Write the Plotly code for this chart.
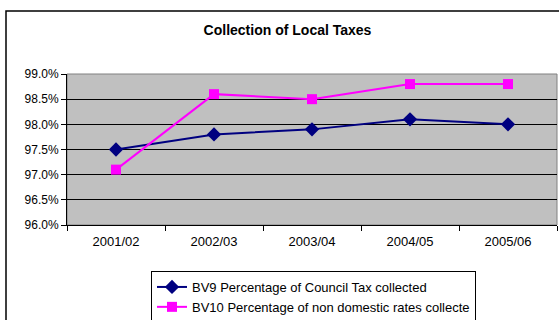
import plotly.graph_objects as go

categories = ["2001/02", "2002/03", "2003/04", "2004/05", "2005/06"]
bv9 = [97.5, 97.8, 97.9, 98.1, 98.0]
bv10 = [97.1, 98.6, 98.5, 98.8, 98.8]
name_bv9 = "BV9 Percentage of Council Tax collected"
name_bv10 = "BV10 Percentage of non domestic rates collecte"
title = "Collection of Local Taxes"

W, H = 559, 320
L, R, T, B = 67, 2, 74, 95
pw, ph = W - L - R, H - T - B

def px2x(p):
    return (p - L) / pw

def py2y(p):
    return (H - B - p) / ph

fig = go.Figure()
fig.add_trace(go.Scatter(x=categories, y=bv9, name=name_bv9, mode="lines+markers",
                         line=dict(color="#000080", width=2),
                         marker=dict(symbol="diamond", size=11, color="#000080")))
fig.add_trace(go.Scatter(x=categories, y=bv10, name=name_bv10, mode="lines+markers",
                         line=dict(color="#FF00FF", width=2),
                         marker=dict(symbol="square", size=10, color="#FF00FF")))

fig.update_layout(
    width=W, height=H,
    margin=dict(l=L, r=R, t=T, b=B, autoexpand=False),
    paper_bgcolor="white",
    plot_bgcolor="#C0C0C0",
    font=dict(family="Liberation Sans, Arial, sans-serif", size=13, color="black"),
    title=dict(text="<b>" + title + "</b>", x=287.5 / W, xanchor="center",
               y=1 - 30 / H, yanchor="middle", font=dict(size=14)),
    showlegend=True,
    legend=dict(x=px2x(151), xanchor="left", y=py2y(271), yanchor="top",
                bgcolor="white", bordercolor="black", borderwidth=1,
                font=dict(size=13), itemwidth=30),
    xaxis=dict(type="category", showgrid=False, ticks="outside", ticklen=5,
               tickcolor="black", tickson="boundaries", showline=True,
               linecolor="black", linewidth=1, range=[-0.5, 4.5],
               tickfont=dict(size=13), ticklabelstandoff=4),
    yaxis=dict(range=[96.0, 99.0], dtick=0.5, tickformat=".1f", ticksuffix="%",
               showgrid=True, gridcolor="black", gridwidth=1, ticks="outside",
               ticklen=5, tickcolor="black", showline=True, linecolor="black",
               linewidth=1, zeroline=False, tickfont=dict(size=12)),
    shapes=[
        dict(type="rect", xref="paper", yref="paper", x0=0, x1=1, y0=0, y1=1,
             line=dict(color="#808080", width=1), layer="below"),
        dict(type="rect", xref="paper", yref="paper", x0=px2x(6), x1=px2x(570),
             y0=py2y(330), y1=py2y(11), line=dict(color="black", width=1.5),
             fillcolor="rgba(0,0,0,0)"),
    ],
)

fig.write_html("out.html", config={"displayModeBar": False},
               post_script="document.body.style.margin='0';document.body.style.padding='0';")
